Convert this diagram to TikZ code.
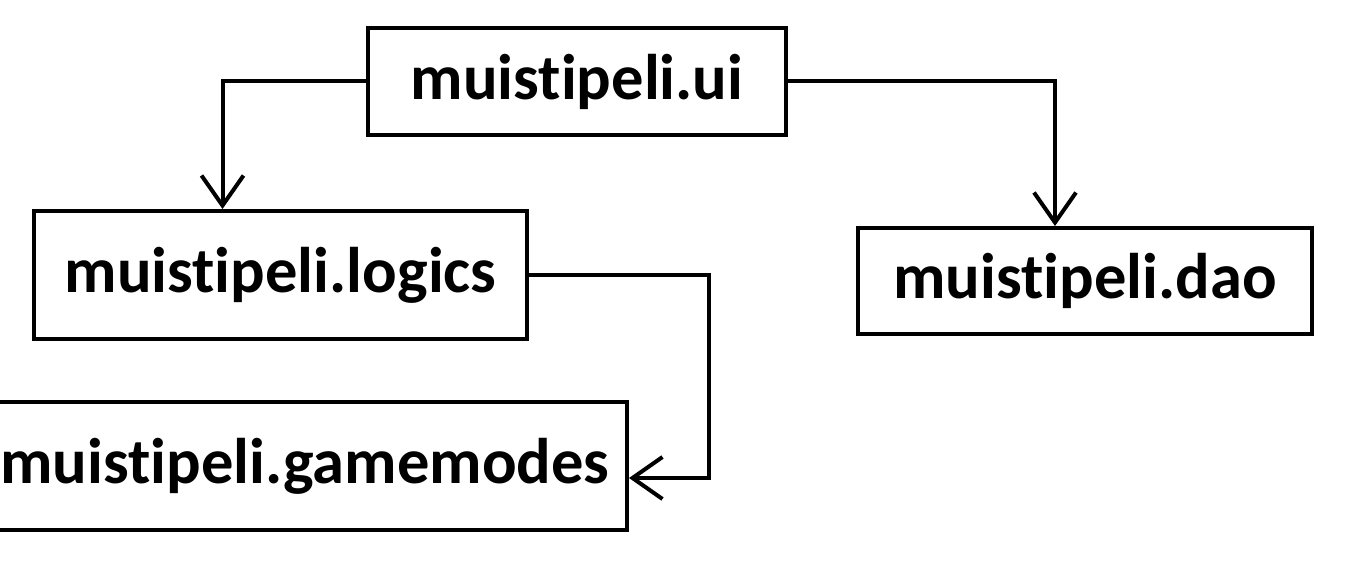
\documentclass[tikz,border=0pt]{standalone}
\usepackage{fontspec}
\setmainfont[Ligatures=NoCommon]{Carlito}
\usetikzlibrary{arrows.meta,positioning,calc}
\tikzset{
  pkg/.style={draw=black,line width=4pt,fill=white,font=\fontsize{64.5}{70}\selectfont\bfseries,text=black,inner sep=0pt,align=center},
  dep/.style={-{Straight Barb[length=30pt,width=42pt,line width=4pt]},line width=4pt,draw=black}
}
\begin{document}
\begin{tikzpicture}[x=1pt,y=-1pt]
  \useasboundingbox[fill=white] (0,0) rectangle (1357,577);
  \node[pkg,minimum width=418pt,minimum height=107pt] (ui) at (577,81.5) {muistipeli.ui};
  \node[pkg,minimum width=493pt,minimum height=128pt] (logics) at (280.5,275) {muistipeli.logics};
  \node[pkg,minimum width=454pt,minimum height=106pt] (dao) at (1085,281) {muistipeli.dao};
  \node[pkg,minimum width=644pt,minimum height=128pt] (gamemodes) at (305,466) {muistipeli.gamemodes};

  \draw[dep] (ui.west) -| ([xshift=-58pt]logics.north);
  \draw[dep] (ui.east) -| ([xshift=-30pt]dao.north);
  \draw[dep] (logics.east) -| ([xshift=80pt,yshift=-12pt]gamemodes.east) -- ([yshift=-12pt]gamemodes.east);
\end{tikzpicture}
\end{document}
